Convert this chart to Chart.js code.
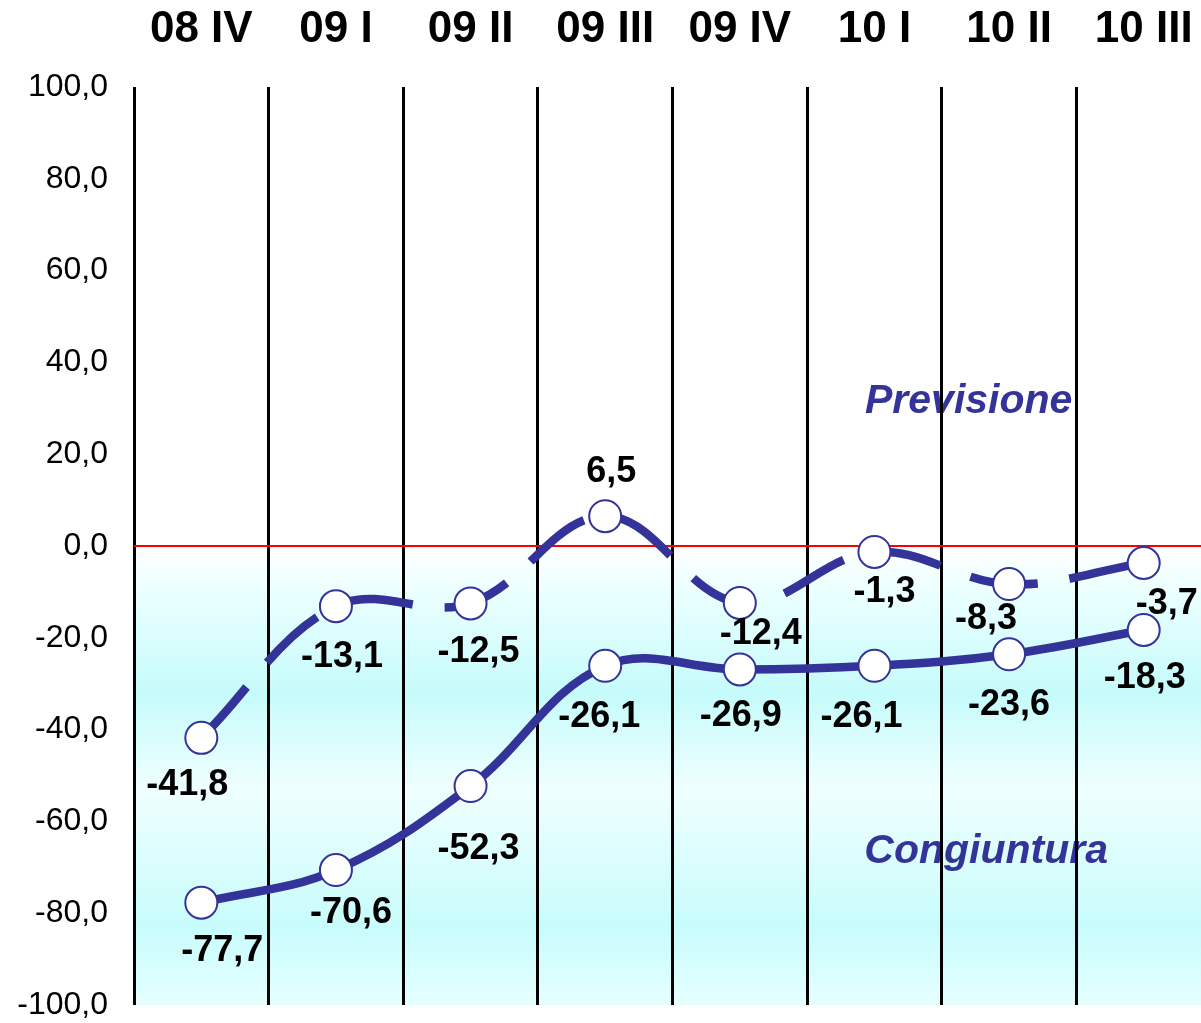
<!DOCTYPE html>
<html>
<head>
<meta charset="utf-8">
<script src="https://cdn.jsdelivr.net/npm/chart.js@4"></script>
<style>
  html, body { margin: 0; padding: 0; background: #fff; overflow: hidden; }
  #wrap { width: 1201px; height: 1023px; overflow: hidden; }
  canvas { display: block; }
</style>
</head>
<body>
<div id="wrap"><canvas id="c" width="1211" height="1023"></canvas></div>
<script>
// Dati del grafico
const quarters = ['08 IV', '09 I', '09 II', '09 III', '09 IV', '10 I', '10 II', '10 III'];
const previsione = [-41.8, -13.1, -12.5, 6.5, -12.4, -1.3, -8.3, -3.7];
const congiuntura = [-77.7, -70.6, -52.3, -26.1, -26.9, -26.1, -23.6, -18.3];

// spostamento delle etichette rispetto al punto (px)
const prevLabelOffset = [[-14, 47], [6, 51], [8, 49], [6, -44], [21, 31], [10, 40], [-23, 35], [23, 41]];
const congLabelOffset = [[21, 48], [15, 43], [8, 63], [-6, 51], [1, 47], [-13, 51], [0, 51], [1, 48]];

const NAVY = '#333399';
const FONT = '"Liberation Sans", Arial, sans-serif';

const fmt = v => v.toFixed(1).replace('.', ',');

// sfondo sfumato sotto lo zero + nomi delle serie
const backgroundPlugin = {
    id: 'bg',
    beforeDraw(chart) {
        const { ctx, chartArea, scales } = chart;
        const y0 = scales.y.getPixelForValue(0);
        const y1 = chartArea.bottom;
        const g = ctx.createLinearGradient(0, y0, 0, y1);
        g.addColorStop(0, '#ffffff');
        g.addColorStop(0.12, '#e8ffff');
        g.addColorStop(0.32, '#c6fbfb');
        g.addColorStop(0.53, '#effffe');
        g.addColorStop(0.83, '#c8fcfc');
        g.addColorStop(1, '#e6ffff');
        ctx.save();
        ctx.fillStyle = g;
        ctx.fillRect(chartArea.left, y0, chartArea.right - chartArea.left, y1 - y0);

        ctx.font = 'italic bold 41px ' + FONT;
        ctx.fillStyle = NAVY;
        ctx.textAlign = 'center';
        ctx.textBaseline = 'middle';
        const sx = scales.x;
        const px = v => sx.getPixelForValue(0) + v * (sx.getPixelForValue(1) - sx.getPixelForValue(0));
        ctx.fillText('Previsione', px(5.7), scales.y.getPixelForValue(31.5));
        ctx.fillText('Congiuntura', px(5.83), scales.y.getPixelForValue(-66.7));
        ctx.restore();
    }
};

// etichette dei valori
const labelPlugin = {
    id: 'valueLabels',
    afterDatasetsDraw(chart) {
        const { ctx } = chart;
        const offsets = [prevLabelOffset, congLabelOffset];
        ctx.save();
        ctx.font = 'bold 36px ' + FONT;
        ctx.fillStyle = '#000';
        ctx.textAlign = 'center';
        ctx.textBaseline = 'middle';
        chart.data.datasets.forEach((ds, i) => {
            const meta = chart.getDatasetMeta(i);
            meta.data.forEach((pt, j) => {
                const o = offsets[i][j];
                ctx.fillText(fmt(ds.data[j]), pt.x + o[0], pt.y + o[1]);
            });
        });
        ctx.restore();
    }
};

new Chart(document.getElementById('c'), {
    type: 'line',
    data: {
        labels: quarters,
        datasets: [
            {
                label: 'Previsione',
                data: previsione,
                borderColor: NAVY,
                borderWidth: 8.5,
                borderDash: [68, 32],
                borderCapStyle: 'butt',
                tension: 0.38,
                pointRadius: 16,
                pointBorderWidth: 2,
                pointBackgroundColor: '#fff',
                pointBorderColor: NAVY
            },
            {
                label: 'Congiuntura',
                data: congiuntura,
                borderColor: NAVY,
                borderWidth: 8.5,
                tension: 0.38,
                pointRadius: 16,
                pointBorderWidth: 2,
                pointBackgroundColor: '#fff',
                pointBorderColor: NAVY
            }
        ]
    },
    options: {
        responsive: false,
        animation: false,
        layout: { padding: 0, autoPadding: false },
        plugins: {
            legend: { display: false },
            tooltip: { enabled: false }
        },
        scales: {
            x: {
                position: 'top',
                offset: true,
                grid: { offset: true, color: '#000', lineWidth: 3, drawTicks: false },
                border: { display: false },
                ticks: {
                    color: '#000',
                    padding: 31,
                    font: { family: FONT, size: 44, weight: 'bold', lineHeight: 1.2 }
                },
                afterFit(scale) {
                    scale.height = 87;
                    scale.paddingLeft = 0;
                    scale.paddingRight = 0;
                }
            },
            y: {
                min: -100,
                max: 100,
                grid: {
                    color: c => (c.tick && c.tick.value === 0 ? '#ff0000' : 'rgba(0,0,0,0)'),
                    lineWidth: 2,
                    drawTicks: false
                },
                border: { display: false },
                ticks: {
                    stepSize: 20,
                    color: '#000',
                    padding: 26,
                    font: { family: FONT, size: 32, lineHeight: 1.1 },
                    callback: v => fmt(v)
                },
                afterFit(scale) {
                    scale.width = 134;
                    scale.paddingTop = 18;
                    scale.paddingBottom = 18;
                }
            }
        }
    },
    plugins: [backgroundPlugin, labelPlugin]
});
</script>
</body>
</html>
